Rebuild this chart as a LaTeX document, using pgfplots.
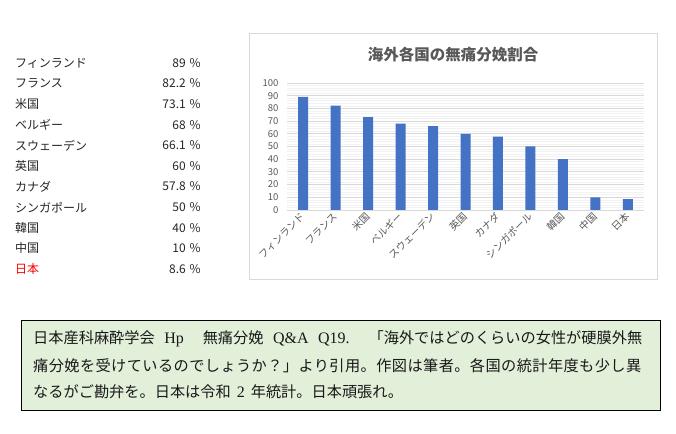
\documentclass[border=0pt]{standalone}
\usepackage{fontspec}
\setmainfont{Noto Sans CJK JP}
\newfontfamily\serifL{Liberation Serif}
\newfontfamily\jpls{Noto Sans CJK JP}[LetterSpace=2.7]
\usepackage{pgfplots}
\pgfplotsset{compat=1.18}

\definecolor{barblue}{HTML}{4472C4}
\definecolor{txtgray}{HTML}{595959}
\definecolor{gridmaj}{HTML}{D9D9D9}
\definecolor{gridmin}{HTML}{F2F2F2}
\definecolor{boxgreen}{HTML}{E2EFD9}

\newcommand{\lat}[1]{{\serifL\fontsize{16}{16}\selectfont #1}}
\newcommand{\gap}[1]{\hspace{0pt plus #1fill}}

\begin{document}
\begin{tikzpicture}[x=1pt,y=1pt]
\useasboundingbox (0,0) rectangle (676,433);

% table on the left
\foreach \n/\v/\y in {フィンランド/89/63, フランス/82.2/83.6, 米国/73.1/104.2,
  ベルギー/68/124.8, スウェーデン/66.1/145.4, 英国/60/166, カナダ/57.8/186.6,
  シンガポール/50/207.2, 韓国/40/227.8, 中国/10/248.4}{
  \node[anchor=west,inner sep=0pt,text=black!85,font=\fontsize{12}{13}\selectfont] at (15,{433-\y}) {\n};
  \node[anchor=east,inner sep=0pt,text=black!85,font=\fontsize{12}{13}\selectfont] at (201,{433-\y}) {\v\hspace{4pt}\%};
}
\node[anchor=west,inner sep=0pt,text=red,font=\fontsize{12}{13}\selectfont] at (15,{433-269}) {日本};
\node[anchor=east,inner sep=0pt,text=black!85,font=\fontsize{12}{13}\selectfont] at (201,{433-269}) {8.6\hspace{4pt}\%};

% chart frame and title
\draw[gridmaj,line width=0.8pt,fill=white] (249,400) rectangle (657,154);
\node[text=txtgray,font=\fontsize{15.5}{16}\selectfont\bfseries] at (453,378) {海外各国の無痛分娩割合};

\begin{axis}[
  at={(287pt,223pt)}, anchor=south west,
  scale only axis, width=357pt, height=127pt,
  xmin=-0.5, xmax=10.5, ymin=0, ymax=100,
  ytick={0,10,...,100}, minor y tick num=4,
  xtick=data,
  xticklabels={フィンランド,フランス,米国,ベルギー,スウェーデン,英国,カナダ,シンガポール,韓国,中国,日本},
  ymajorgrids, yminorgrids,
  major grid style={gridmaj,line width=0.8pt},
  minor grid style={gridmin,line width=0.6pt},
  axis x line*=bottom, axis y line*=left,
  x axis line style={gridmaj,line width=0.8pt,-},
  y axis line style={draw=none},
  major tick length=0pt, minor tick length=0pt,
  tick style={draw=none},
  /pgf/number format/assume math mode=true,
  yticklabel style={font=\fontsize{9.5}{10}\selectfont,text=txtgray,xshift=-5pt},
  xticklabel style={font=\fontsize{10}{11}\selectfont,text=txtgray,rotate=45,anchor=east,yshift=-3pt},
  ybar, bar width=10pt,
]
\addplot[fill=barblue,draw=none] coordinates {
  (0,89) (1,82.2) (2,73.1) (3,68) (4,66.1) (5,60)
  (6,57.8) (7,50) (8,40) (9,10) (10,8.6)};
\end{axis}

% note box
\draw[black,line width=0.8pt,fill=boxgreen] (21,113) rectangle (660,23);
\begin{scope}[every node/.style={anchor=west,inner sep=0pt,text=black!90,font=\fontsize{15.2}{16}\selectfont}]
\node at (33,{433-339}) {\makebox[609pt][l]{日本産科麻酔学会\gap1\lat{Hp}\gap2無痛分娩\gap1\lat{Q\&A}\gap1\lat{Q19.}\gap2「海外ではどのくらいの女性が硬膜外無}};
\node at (33,{433-365.5}) {\jpls 痛分娩を受けているのでしょうか？」より引用。作図は筆者。各国の統計年度も少し異};
\node at (33,{433-392}) {なるがご勘弁を。日本は令和\hspace{6pt}\lat{2}\hspace{6pt}年統計。日本頑張れ。};
\end{scope}
\end{tikzpicture}
\end{document}
